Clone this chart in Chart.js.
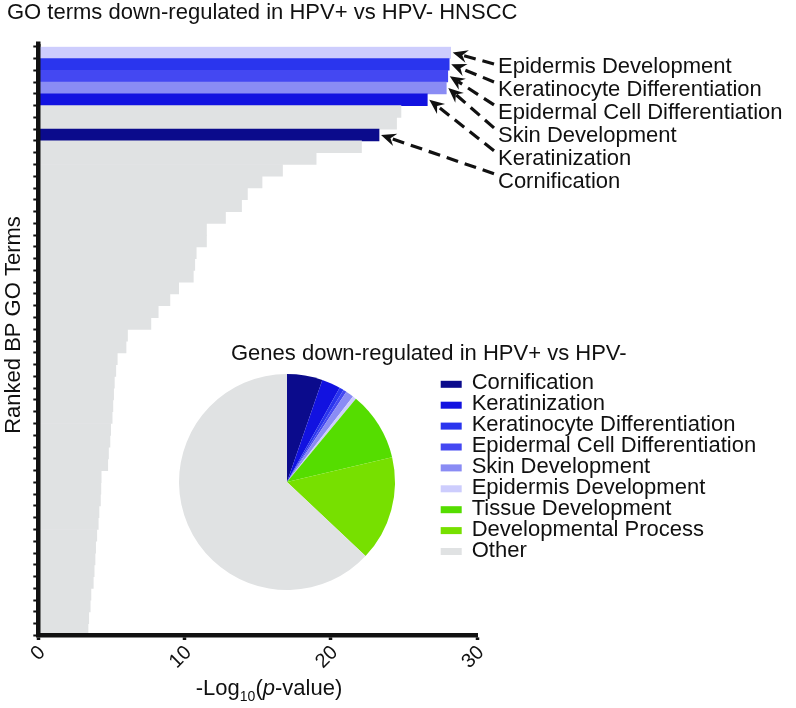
<!DOCTYPE html>
<html><head><meta charset="utf-8">
<script src="https://cdn.jsdelivr.net/npm/chart.js@4.4.1/dist/chart.umd.min.js"></script>
<style>
html,body{margin:0;padding:0;background:#fff;}
#wrap{position:relative;width:796px;height:708px;overflow:hidden;}
#bar{position:absolute;left:0;top:0;}
#pie{position:absolute;left:170px;top:340px;}
</style></head><body>
<div id="wrap"><canvas id="bar" width="796" height="708"></canvas><canvas id="pie" width="626" height="260"></canvas></div>
<script>
// ---------- data ----------
const goTerms = [
  'Epidermis Development','Keratinocyte Differentiation','Epidermal Cell Differentiation','Skin Development','Keratinization',
  'GO term 6','GO term 7','Cornification','GO term 9','GO term 10',
  'GO term 11','GO term 12','GO term 13','GO term 14','GO term 15',
  'GO term 16','GO term 17','GO term 18','GO term 19','GO term 20',
  'GO term 21','GO term 22','GO term 23','GO term 24','GO term 25',
  'GO term 26','GO term 27','GO term 28','GO term 29','GO term 30',
  'GO term 31','GO term 32','GO term 33','GO term 34','GO term 35',
  'GO term 36','GO term 37','GO term 38','GO term 39','GO term 40',
  'GO term 41','GO term 42','GO term 43','GO term 44','GO term 45',
  'GO term 46','GO term 47','GO term 48','GO term 49','GO term 50'
];
const negLogP = [
  28.2, 28.1, 28.0, 27.9, 26.6, 24.8, 24.5, 23.3, 22.1, 19.0,
  16.7, 15.3, 14.3, 13.9, 12.8, 11.5, 11.5, 10.8, 10.7, 10.6,
  9.6, 9.0, 8.2, 7.7, 6.1, 6.0, 5.4, 5.3, 5.2, 5.15,
  5.1, 5.05, 4.95, 4.9, 4.8, 4.75, 4.3, 4.28, 4.25, 4.15,
  4.1, 4.0, 3.92, 3.88, 3.82, 3.76, 3.6, 3.55, 3.45, 3.4
];
const xTickValues = [0, 10, 20, 30];
const calloutTerms = ['Epidermis Development','Keratinocyte Differentiation','Epidermal Cell Differentiation','Skin Development','Keratinization','Cornification'];
const pieLabels = ['Cornification','Keratinization','Keratinocyte Differentiation','Epidermal Cell Differentiation','Skin Development','Epidermis Development','Tissue Development','Developmental Process','Other'];
const pieValues = [5.3, 2.8, 0.65, 0.5, 1.2, 0.55, 10.3, 15.7, 62.9];

// ---------- styles ----------
const termColors = {
  'Cornification': '#0b0b8c',
  'Keratinization': '#1212e0',
  'Keratinocyte Differentiation': '#2a35ee',
  'Epidermal Cell Differentiation': '#4448f2',
  'Skin Development': '#8a8cf4',
  'Epidermis Development': '#cdcdfd',
  'Tissue Development': '#55dd00',
  'Developmental Process': '#77e000',
  'Other': '#e0e2e3'
};
const FONT = '"Liberation Sans", Arial, Helvetica, sans-serif';
const INK = '#111';
Chart.defaults.font.family = FONT;
Chart.defaults.color = INK;

// ---------- plugins ----------
const barDecor = {
  id: 'barDecor',
  afterDraw(chart) {
    const ctx = chart.ctx, xs = chart.scales.x, ys = chart.scales.y;
    ctx.save();
    ctx.fillStyle = INK;
    // y axis title
    ctx.save();
    ctx.translate(13.5, 325);
    ctx.rotate(-Math.PI / 2);
    ctx.font = '22px ' + FONT;
    ctx.textAlign = 'center';
    ctx.textBaseline = 'middle';
    ctx.fillText('Ranked BP GO Terms', 0, 0);
    ctx.restore();
    // y axis line extension above the first bar
    ctx.fillRect(36, 41.5, 4.5, chart.chartArea.top - 41.5);
    // x axis title with subscript and italic p
    const parts = [
      {t: '-Log', f: '22px ' + FONT, dy: 0},
      {t: '10', f: '14px ' + FONT, dy: 6},
      {t: '(', f: '22px ' + FONT, dy: 0},
      {t: 'p', f: 'italic 22px ' + FONT, dy: 0},
      {t: '-value)', f: '22px ' + FONT, dy: 0}
    ];
    let total = 0;
    parts.forEach(p => { ctx.font = p.f; p.w = ctx.measureText(p.t).width; total += p.w; });
    let cx = 269 - total / 2;
    ctx.textAlign = 'left';
    ctx.textBaseline = 'alphabetic';
    parts.forEach(p => { ctx.font = p.f; ctx.fillText(p.t, cx, 695 + p.dy); cx += p.w; });
    // callouts
    ctx.font = '22px ' + FONT;
    ctx.textBaseline = 'middle';
    calloutTerms.forEach((term, k) => {
      const i = goTerms.indexOf(term);
      const tipX = xs.getPixelForValue(negLogP[i]) + 2;
      const tipY = ys.getPixelForValue(i);
      const ly = 67 + 22.95 * k;
      const sx = 494, sy = ly - (k === 0 ? 3 : 8);
      ctx.fillText(term, 498, ly);
      const dx = tipX - sx, dy = tipY - sy, len = Math.hypot(dx, dy);
      const ux = dx / len, uy = dy / len;
      const headL = 15, headW = 6.5, notch = 10;
      ctx.save();
      ctx.strokeStyle = INK;
      ctx.lineWidth = 3.2;
      ctx.setLineDash([12, 7]);
      ctx.beginPath();
      ctx.moveTo(sx, sy);
      ctx.lineTo(tipX - ux * notch, tipY - uy * notch);
      ctx.stroke();
      ctx.restore();
      const bx = tipX - ux * headL, by = tipY - uy * headL;
      ctx.beginPath();
      ctx.moveTo(tipX, tipY);
      ctx.lineTo(bx - uy * headW, by + ux * headW);
      ctx.lineTo(tipX - ux * notch, tipY - uy * notch);
      ctx.lineTo(bx + uy * headW, by - ux * headW);
      ctx.closePath();
      ctx.fill();
    });
    ctx.restore();
  }
};

const pieDecor = {
  id: 'pieDecor',
  afterDraw(chart) {
    const ctx = chart.ctx;
    ctx.save();
    ctx.fillStyle = INK;
    ctx.font = '22px ' + FONT;
    ctx.textAlign = 'left';
    ctx.textBaseline = 'middle';
    ctx.fillText('Genes down-regulated in HPV+ vs HPV-', 61, 14);
    const ds = chart.data.datasets[0];
    chart.data.labels.forEach((lab, i) => {
      const y = 43.3 + 20.9 * i;
      ctx.fillStyle = ds.backgroundColor[i];
      ctx.fillRect(270.7, y - 2.5, 21, 7);
      ctx.fillStyle = INK;
      ctx.fillText(lab, 301.7, y);
    });
    ctx.restore();
  }
};

// ---------- bar chart ----------
new Chart(document.getElementById('bar'), {
  type: 'bar',
  data: {
    labels: goTerms,
    datasets: [{
      data: negLogP,
      backgroundColor: goTerms.map(t => termColors[t] || termColors.Other),
      borderWidth: 0,
      barPercentage: 1,
      categoryPercentage: 1
    }]
  },
  options: {
    indexAxis: 'y',
    responsive: false,
    animation: false,
    events: [],
    layout: {padding: {left: 7, top: 0, right: 0, bottom: 0}},
    plugins: {
      legend: {display: false},
      tooltip: {enabled: false},
      title: {
        display: true,
        text: 'GO terms down-regulated in HPV+ vs HPV- HNSCC',
        align: 'start',
        color: INK,
        font: {size: 22, weight: 'normal'},
        padding: {top: 0, bottom: 20.3}
      }
    },
    scales: {
      x: {
        type: 'linear', position: 'bottom', min: 0, max: 30,
        afterBuildTicks: s => { s.ticks = xTickValues.map(v => ({value: v})); },
        ticks: {minRotation: 45, maxRotation: 45, font: {size: 20}, color: INK, padding: 1, labelOffset: 4},
        grid: {drawOnChartArea: false, drawTicks: true, tickLength: 4.5, tickWidth: 3.5, tickColor: INK},
        border: {display: true, color: INK, width: 4.4, z: 1},
        afterFit: s => { s.height = 72.5; }
      },
      y: {
        type: 'category', position: 'left', offset: true,
        ticks: {display: false},
        grid: {offset: true, drawOnChartArea: false, drawTicks: true, tickLength: 5, tickWidth: 2, tickColor: INK},
        border: {display: true, color: INK, width: 4.5, z: 1},
        afterFit: s => { s.width = 31.3; }
      },
      pad: {
        type: 'linear', position: 'right',
        grid: {display: false}, ticks: {display: false}, border: {display: false},
        afterFit: s => { s.width = 319; }
      }
    }
  },
  plugins: [barDecor]
});

// ---------- pie chart ----------
new Chart(document.getElementById('pie'), {
  type: 'pie',
  data: {
    labels: pieLabels,
    datasets: [{
      data: pieValues,
      backgroundColor: pieLabels.map(l => termColors[l]),
      borderWidth: 0
    }]
  },
  options: {
    responsive: false,
    animation: false,
    events: [],
    layout: {padding: {left: 9, top: 34, right: 401, bottom: 10}},
    plugins: {legend: {display: false}, tooltip: {enabled: false}, title: {display: false}}
  },
  plugins: [pieDecor]
});
</script>
</body></html>
